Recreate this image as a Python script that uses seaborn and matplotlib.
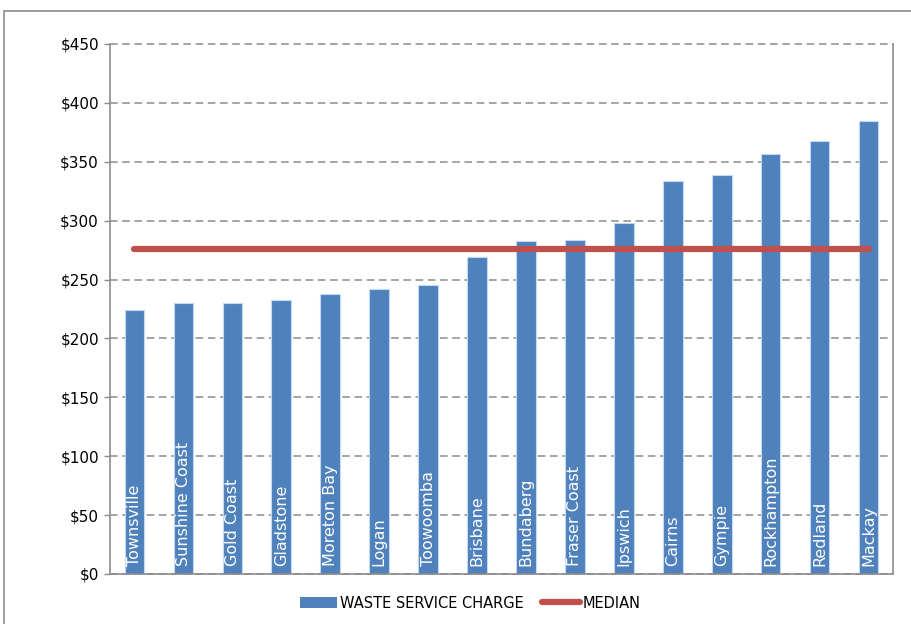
import matplotlib
matplotlib.use("Agg")
import matplotlib.pyplot as plt
from matplotlib.patches import Patch, Rectangle
from matplotlib.lines import Line2D
import seaborn as sns
import pandas as pd

councils = ["Townsville", "Sunshine Coast", "Gold Coast", "Gladstone", "Moreton Bay",
            "Logan", "Toowoomba", "Brisbane", "Bundaberg", "Fraser Coast", "Ipswich",
            "Cairns", "Gympie", "Rockhampton", "Redland", "Mackay"]
charges = [224, 230, 230, 233, 238, 242, 245, 269, 283, 284, 298, 334, 339, 357, 368, 385]
median_charge = 276
yticks = [0, 50, 100, 150, 200, 250, 300, 350, 400, 450]

bar_col = "#4F81BD"
med_col = "#C0504D"
grid_col = "#8C8C8C"

df = pd.DataFrame({"council": councils, "charge": charges})
med_df = pd.DataFrame({"council": councils, "median": [median_charge] * len(councils)})

sns.set_theme(style="white")
plt.rcParams["font.family"] = ["DejaVu Sans"]

fig = plt.figure(figsize=(9.11, 6.24), dpi=100)
ax = fig.add_axes([110 / 911, 1 - 574 / 624, (893 - 110) / 911, (574 - 44) / 624])

sns.barplot(data=df, x="council", y="charge", color=bar_col, saturation=1,
            width=0.4, edgecolor="#C6D9F1", linewidth=0.8, ax=ax, zorder=2)
sns.lineplot(data=med_df, x="council", y="median", color=med_col, linewidth=4.5,
             solid_capstyle="round", ax=ax, zorder=3)

# names written up the inside of each bar
for i, name in enumerate(councils):
    ax.text(i, 7, name, rotation=90, ha="center", va="bottom", color="white",
            fontsize=11.5, zorder=4)

ax.set_ylim(0, 450)
ax.set_xlim(-0.5, len(councils) - 0.5)
ax.set_yticks(yticks)
ax.set_yticklabels(["$" + str(v) for v in yticks], fontsize=11, color="black")
ax.set_xticks([])
ax.set_xlabel("")
ax.set_ylabel("")
ax.yaxis.grid(True, linestyle=(0, (5, 3)), color=grid_col, linewidth=1.1)
ax.set_axisbelow(True)
for gl in ax.get_ygridlines():
    gl.set_clip_on(False)
ax.tick_params(axis="y", direction="out", length=4, width=1, color=grid_col, left=True, pad=4)
for side in ["left", "bottom", "right"]:
    ax.spines[side].set_color(grid_col)
    ax.spines[side].set_linewidth(1.2)
ax.spines["top"].set_visible(False)

handles = [Patch(facecolor=bar_col, edgecolor="none"),
           Line2D([0], [0], color=med_col, linewidth=4.5, solid_capstyle="round")]
fig.legend(handles, ["WASTE SERVICE CHARGE", "MEDIAN"], loc="center",
           bbox_to_anchor=(470 / 911, 1 - 603 / 624), ncol=2, frameon=False,
           fontsize=10.5, handlelength=2.6, handleheight=0.8, handletextpad=0.2,
           columnspacing=1.2, labelcolor="black")

# outer chart frame
fig.patches.append(Rectangle((4 / 911, -0.1), 1.2, 1 - 11 / 624 + 0.1,
                             transform=fig.transFigure, fill=False,
                             edgecolor="#8C8C8C", linewidth=1.2))

fig.savefig("out.png", dpi=100)
